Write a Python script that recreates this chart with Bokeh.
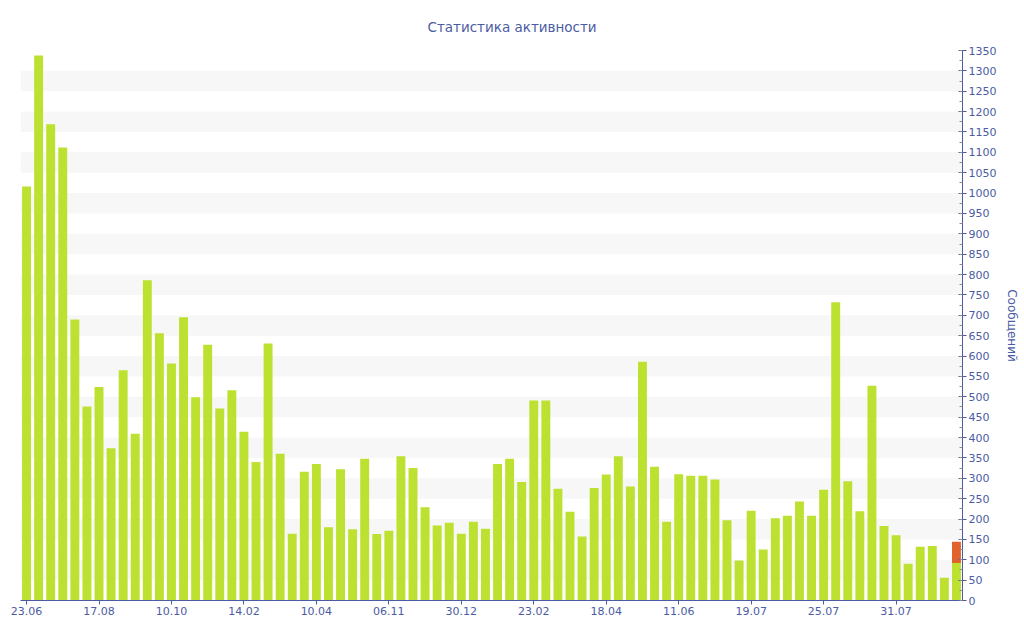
from bokeh.plotting import figure
from bokeh.models import FixedTicker, SingleIntervalTicker, Range1d, ColumnDataSource
from bokeh.embed import file_html
from bokeh.resources import INLINE

# --- data -------------------------------------------------------------
tick_labels = ["23.06", "17.08", "10.10", "14.02", "10.04", "06.11", "30.12",
               "23.02", "18.04", "11.06", "19.07", "25.07", "31.07"]
tick_every = 6

main_values = [1016, 1338, 1169, 1112, 690, 476, 524, 374, 565, 409,
               786, 656, 582, 695, 499, 628, 471, 516, 414, 340,
               631, 360, 164, 316, 335, 180, 322, 175, 348, 163,
               171, 354, 325, 229, 184, 191, 164, 193, 176, 335,
               348, 291, 491, 491, 274, 218, 157, 276, 309, 354,
               280, 586, 328, 193, 310, 306, 306, 297, 197, 98,
               220, 125, 202, 208, 243, 208, 272, 732, 293, 219,
               527, 183, 160, 90, 132, 134, 56, 92]
extra_values = [0] * 77 + [52]

series_names = ["main", "extra"]
series_colors = ["#bde130", "#e2622d"]

title_text = "Статистика активности"
y_label = "Сообщений"

# --- build ------------------------------------------------------------
idx = list(range(len(main_values)))
source = ColumnDataSource(dict(x=idx, main=main_values, extra=extra_values))

axis_color = "#4b5ca4"
font = "DejaVu Sans"

p = figure(frame_width=942, frame_height=550,
           x_range=Range1d(-0.5, len(idx) - 0.5), y_range=Range1d(0, 1350),
           y_axis_location="right", output_backend="svg",
           toolbar_location=None, title=title_text,
           min_border_left=20, min_border_top=50,
           min_border_right=0, min_border_bottom=0)

p.vbar_stack(series_names, x="x", width=0.74, source=source,
             color=series_colors, line_color=None)

# title
p.title.align = "left"
p.title.offset = 407
p.title.standoff = 32
p.title.text_font = font
p.title.text_font_size = "13.5px"
p.title.text_font_style = "normal"
p.title.text_color = axis_color

p.outline_line_color = None
p.background_fill_color = "white"
p.border_fill_color = "white"

# grids
p.xgrid.grid_line_color = None
yticker = SingleIntervalTicker(interval=50, num_minor_ticks=2)
p.yaxis.ticker = yticker
p.ygrid.ticker = yticker
p.ygrid.grid_line_color = None
p.ygrid.band_fill_color = "#f7f7f7"
p.ygrid.band_fill_alpha = 1.0

# y axis (right)
ya = p.yaxis[0]
ya.axis_label = y_label
ya.axis_label_text_font = font
ya.axis_label_text_font_size = "12px"
ya.axis_label_text_font_style = "normal"
ya.axis_label_text_color = axis_color
ya.axis_label_standoff = 6
ya.axis_line_color = axis_color
ya.major_tick_line_color = axis_color
ya.major_tick_in = 4
ya.major_tick_out = 4
ya.minor_tick_line_color = "#8a8a8a"
ya.minor_tick_in = 3
ya.minor_tick_out = 0
ya.major_label_text_font = font
ya.major_label_text_font_size = "11px"
ya.major_label_text_color = axis_color
ya.major_label_standoff = 2

# x axis
tick_pos = [i * tick_every for i in range(len(tick_labels))]
xa = p.xaxis[0]
xa.ticker = FixedTicker(ticks=tick_pos)
xa.major_label_overrides = {pos: lab for pos, lab in zip(tick_pos, tick_labels)}
xa.axis_line_color = axis_color
xa.major_tick_line_color = axis_color
xa.major_tick_in = 0
xa.major_tick_out = 4
xa.minor_tick_line_color = None
xa.major_label_text_font = font
xa.major_label_text_font_size = "11px"
xa.major_label_text_color = axis_color
xa.major_label_standoff = 2

open("out.html", "w").write(file_html(p, INLINE))
